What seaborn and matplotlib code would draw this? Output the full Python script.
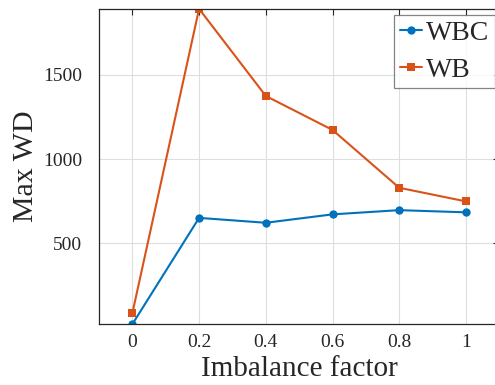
import pandas as pd
import matplotlib.pyplot as plt
import seaborn as sns

# values
imbalance = [0, 0.2, 0.4, 0.6, 0.8, 1]
wbc = [18, 650, 621, 671, 696, 683]
wb = [83, 1893, 1375, 1173, 829, 748]

df = pd.DataFrame({
    'Imbalance factor': imbalance * 2,
    'Max WD': wbc + wb,
    'method': ['WBC'] * len(wbc) + ['WB'] * len(wb),
})

sns.set_theme(style='white')
plt.rcParams['font.family'] = ['Liberation Serif', 'DejaVu Serif']

fig = plt.figure(figsize=(4.95, 3.85), dpi=100)
ax = fig.add_axes([0.2, 0.158, 0.8087, 0.819])

sns.lineplot(data=df, x='Imbalance factor', y='Max WD', hue='method', style='method',
             palette={'WBC': '#0072BD', 'WB': '#D95319'},
             markers={'WBC': 'o', 'WB': 's'}, dashes=False,
             markersize=6, markeredgewidth=0, linewidth=1.5, ax=ax)

ax.set_xlim(-0.1, 1.1)
ax.set_ylim(18, 1893)
ax.set_xticks([0, 0.2, 0.4, 0.6, 0.8, 1])
ax.set_xticklabels(['0', '0.2', '0.4', '0.6', '0.8', '1'])
ax.set_yticks([500, 1000, 1500])
ax.grid(True, color='#dedede', linewidth=0.8)
ax.tick_params(direction='in', length=4, width=0.8, top=True, right=True,
               labelsize=14, colors='#262626')
ax.tick_params(axis='x', pad=7)
ax.tick_params(axis='y', pad=12)
for s in ax.spines.values():
    s.set_color('#262626')
    s.set_linewidth(0.9)
ax.set_xlabel('Imbalance factor', fontsize=21, color='#262626', labelpad=4)
ax.set_ylabel('Max WD', fontsize=21.5, color='#262626', labelpad=3)

# legend pinned to the top right corner, MATLAB style box
leg = ax.legend(loc='upper right', bbox_to_anchor=(1.0, 0.962),
                bbox_transform=fig.transFigure, borderaxespad=0,
                fontsize=20, frameon=True, fancybox=False, handlelength=0.8,
                handletextpad=0.15, borderpad=0.2, labelspacing=0.42)
leg.get_frame().set_edgecolor('#666666')
leg.get_frame().set_linewidth(0.9)

fig.savefig('out.png', dpi=100)
